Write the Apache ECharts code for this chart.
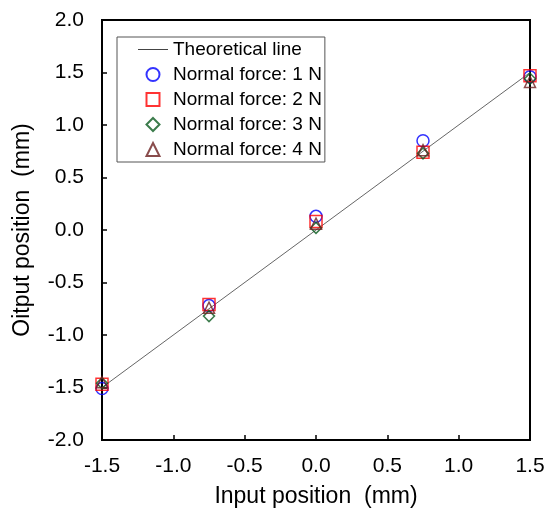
<!DOCTYPE html>
<html><head><meta charset="utf-8">
<script src="https://cdn.jsdelivr.net/npm/echarts@6/dist/echarts.min.js"></script>
<style>html,body{margin:0;padding:0;background:#fff}#c{width:544px;height:512px}</style>
</head><body><div id="c"></div>
<script>
const inputX = [-1.5, -0.75, 0, 0.75, 1.5];
const force1N = [-1.51, -0.72, 0.13, 0.85, 1.46];
const force2N = [-1.47, -0.71, 0.08, 0.74, 1.47];
const force3N = [-1.46, -0.82, 0.02, 0.73, 1.44];
const force4N = [-1.45, -0.74, 0.06, 0.76, 1.41];
const theoryX = [-1.5, 1.5];
const theoryY = [-1.5, 1.5];
const seriesNames = ['Theoretical line','Normal force: 1 N','Normal force: 2 N','Normal force: 3 N','Normal force: 4 N'];

const pair = (xs, ys) => xs.map((x, i) => [x, ys[i]]);
const font = 'Liberation Sans, Arial, sans-serif';
const chart = echarts.init(document.getElementById('c'));
chart.setOption({
  animation: false,
  backgroundColor: '#fff',
  grid: {left: 102, right: 14, top: 20, bottom: 72, outerBoundsMode: 'none', containLabel: false,
         show: true, borderColor: '#000', borderWidth: 2, backgroundColor: 'transparent'},
  legend: {
    orient: 'vertical', left: 117, top: 37,
    padding: [3, 3, 3, 21], itemGap: 6, itemWidth: 30, itemHeight: 13,
    symbolKeepAspect: true,
    backgroundColor: '#fff', borderColor: '#555', borderWidth: 1,
    textStyle: {fontFamily: font, fontSize: 19, color: '#000'},
    data: [
      {name: seriesNames[0], icon: 'path://M0,0L30,0L30,1L0,1Z', itemStyle: {color: '#444'}},
      {name: seriesNames[1], icon: 'circle'},
      {name: seriesNames[2], icon: 'path://M0,0L10,0L10,10L0,10Z'},
      {name: seriesNames[3], icon: 'path://M5,0L10,5L5,10L0,5Z'},
      {name: seriesNames[4], icon: 'path://M5,0L10,10L0,10Z'}
    ]
  },
  xAxis: {
    type: 'value', min: -1.5, max: 1.5, interval: 0.5,
    name: 'Input position  (mm)', nameLocation: 'middle', nameGap: 45,
    nameTextStyle: {fontFamily: font, fontSize: 23, color: '#000'},
    axisLine: {show: true, onZero: false, lineStyle: {color: '#000', width: 2}},
    axisTick: {show: true, inside: true, length: 5, lineStyle: {color: '#000', width: 1.5}},
    axisLabel: {fontFamily: font, fontSize: 21, color: '#000', margin: 16, formatter: v => v.toFixed(1)},
    splitLine: {show: false}
  },
  yAxis: {
    type: 'value', min: -2, max: 2, interval: 0.5,
    name: 'Oitput position  (mm)', nameLocation: 'middle', nameGap: 68, nameRotate: 90,
    nameTextStyle: {fontFamily: font, fontSize: 23, color: '#000'},
    axisLine: {show: true, onZero: false, lineStyle: {color: '#000', width: 2}},
    axisTick: {show: true, inside: true, length: 5, lineStyle: {color: '#000', width: 1.5}},
    axisLabel: {fontFamily: font, fontSize: 21, color: '#000', margin: 18, formatter: v => v.toFixed(1)},
    splitLine: {show: false}
  },
  series: [
    {name: seriesNames[0], type: 'line', data: pair(theoryX, theoryY), symbol: 'none',
     lineStyle: {color: '#666', width: 1}, itemStyle: {color: '#444'}, z: 1},
    {name: seriesNames[1], type: 'scatter', data: pair(inputX, force1N), symbol: 'circle', symbolSize: 12,
     itemStyle: {color: 'transparent', borderColor: '#0000ff', borderWidth: 1.5}},
    {name: seriesNames[2], type: 'scatter', data: pair(inputX, force2N), symbol: 'rect', symbolSize: 12,
     itemStyle: {color: 'transparent', borderColor: '#ff0000', borderWidth: 1.5}},
    {name: seriesNames[3], type: 'scatter', data: pair(inputX, force3N), symbol: 'diamond', symbolSize: [11, 11],
     itemStyle: {color: 'transparent', borderColor: '#0a5a1e', borderWidth: 1.5}},
    {name: seriesNames[4], type: 'scatter', data: pair(inputX, force4N), symbol: 'triangle', symbolSize: [11, 11],
     itemStyle: {color: 'transparent', borderColor: '#6b1f1f', borderWidth: 1.5}}
  ]
});
</script></body></html>
